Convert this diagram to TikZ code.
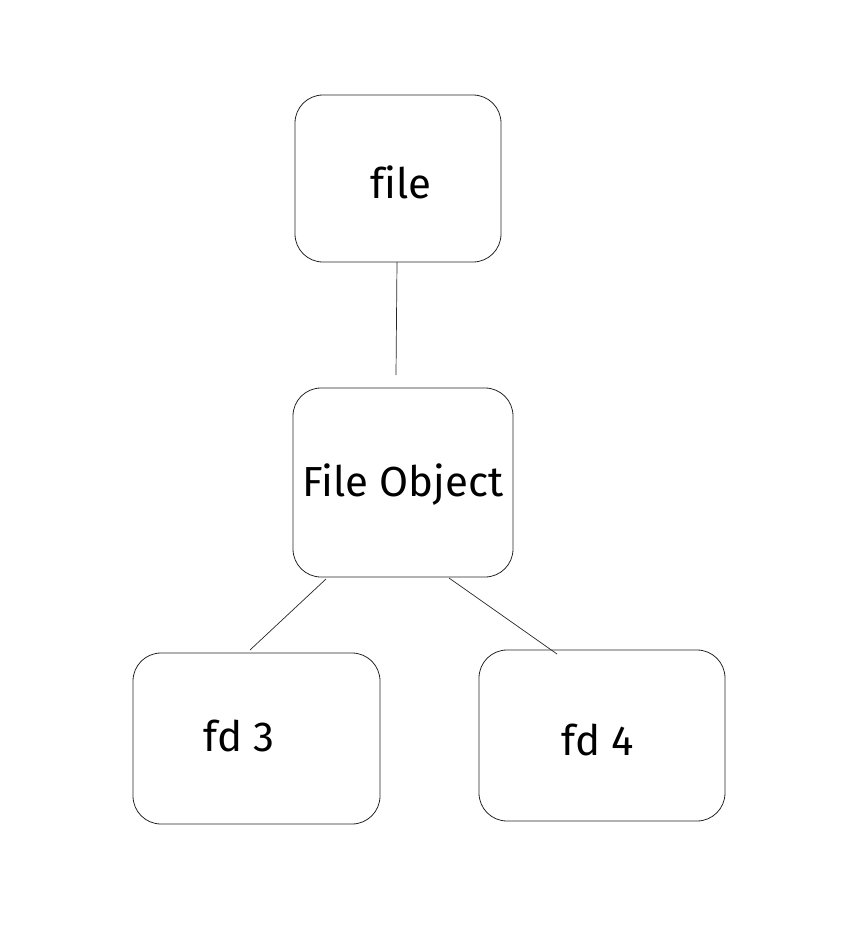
\documentclass[tikz,border=0pt]{standalone}
\usepackage{fontspec}
\setmainfont[Ligatures=NoCommon]{Fira Sans}
\begin{document}
\begin{tikzpicture}[x=1pt,y=-1pt,
  box/.style={draw=black!85,line width=0.8pt,rounded corners=28pt},
  lbl/.style={font=\fontsize{42}{46}\selectfont,text=black},
  conn/.style={draw=black!85,line width=0.7pt}]
\useasboundingbox (0,0) rectangle (855,930);
\draw[box] (295,95) rectangle (501,262);
\draw[box] (293,388) rectangle (513,577);
\draw[box] (133,653) rectangle (380,824);
\draw[box] (479,650) rectangle (725,821);
\node[lbl] (file) at (401,182) {file};
\node[lbl] (fo) at (403,485) {File Object};
\node[lbl] (fd3) at (239,736) {fd 3};
\node[lbl] (fd4) at (598,740) {fd 4};
\coordinate (a1) at (397,262);
\coordinate (a2) at (396,375);
\coordinate (b1) at (326,579);
\coordinate (b2) at (250,650);
\coordinate (c1) at (449,578);
\coordinate (c2) at (557,654);
\draw[conn] (a1) -- (a2);
\draw[conn] (b1) -- (b2);
\draw[conn] (c1) -- (c2);
\end{tikzpicture}
\end{document}
